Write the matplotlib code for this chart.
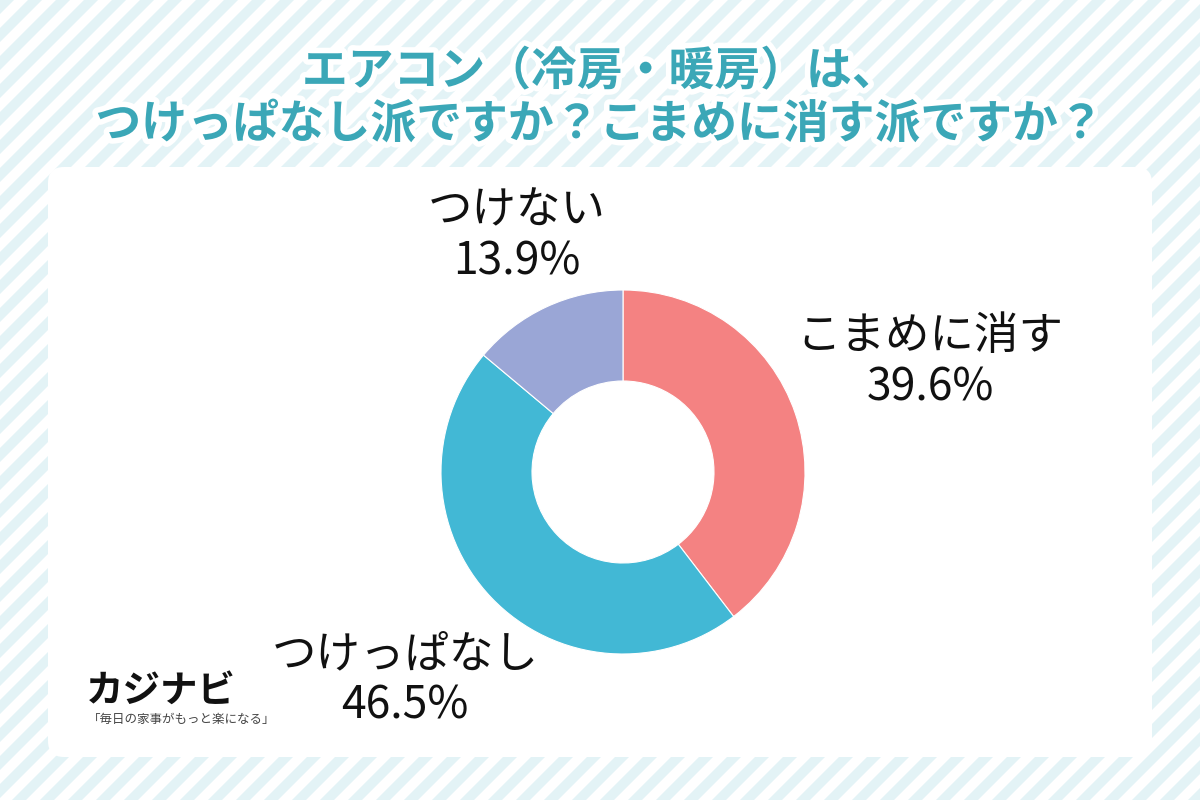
import matplotlib.pyplot as plt
import matplotlib.patheffects as pe
from matplotlib.patches import FancyBboxPatch, Polygon

plt.rcParams['font.family'] = ['Noto Sans CJK JP', 'DejaVu Sans']

# data
labels = ['こまめに消す', 'つけっぱなし', 'つけない']
values = [39.6, 46.5, 13.9]
colors = ['#f48282', '#42b8d5', '#9aa6d6']
title_lines = ['エアコン（冷房・暖房）は、', 'つけっぱなし派ですか？こまめに消す派ですか？']

W, H = 1200, 800
fig = plt.figure(figsize=(12, 8), dpi=100)

# background with diagonal stripes
bg = fig.add_axes([0, 0, 1, 1])
bg.set_xlim(0, W)
bg.set_ylim(H, 0)
bg.axis('off')
bg.add_patch(plt.Rectangle((0, 0), W, H, color='white', zorder=0))
period = 28
for x0 in range(-H, W + H, period):
    poly = [(x0, H), (x0 + period / 2, H), (x0 + period / 2 + H, 0), (x0 + H, 0)]
    bg.add_patch(Polygon(poly, closed=True, color='#e3f3f6', lw=0, zorder=1))

# white panel
bg.add_patch(FancyBboxPatch((62, 181), 1076, 562,
                            boxstyle='round,pad=14,rounding_size=16',
                            fc='white', ec='none', zorder=2))

# title
stroke = [pe.withStroke(linewidth=8, foreground='white')]
bg.text(600, 72, title_lines[0], ha='center', va='center', fontsize=33,
        fontweight='bold', color='#3ba7b7', path_effects=stroke, zorder=3)
bg.text(600, 125, title_lines[1], ha='center', va='center', fontsize=33,
        fontweight='bold', color='#3ba7b7', path_effects=stroke, zorder=3)

# logo
bg.text(86, 690, 'カジナビ', ha='left', va='center', fontsize=27,
        fontweight='bold', style='italic', color='#111111', zorder=3)
bg.text(88, 720, '「毎日の家事がもっと楽になる」', ha='left', va='center', fontsize=9,
        style='italic', color='#444444', zorder=3)

# donut
cx, cy, r = 623, 472, 182
ax = fig.add_axes([(cx - r) / W, (H - cy - r) / H, 2 * r / W, 2 * r / H])
ax.pie(values, colors=colors, startangle=90, counterclock=False,
       wedgeprops=dict(width=0.5, edgecolor='white', linewidth=0.8))
ax.set_xlim(-1, 1)
ax.set_ylim(-1, 1)
ax.set_aspect('equal')

# labels
label_pos = [(930, 362), (405, 680), (517, 236)]
for lab, val, (lx, ly) in zip(labels, values, label_pos):
    bg.text(lx, ly, f'{lab}\n{val}%', ha='center', va='center', fontsize=32,
            color='#111111', linespacing=1.15, zorder=3)

fig.savefig('out.png', dpi=100)
